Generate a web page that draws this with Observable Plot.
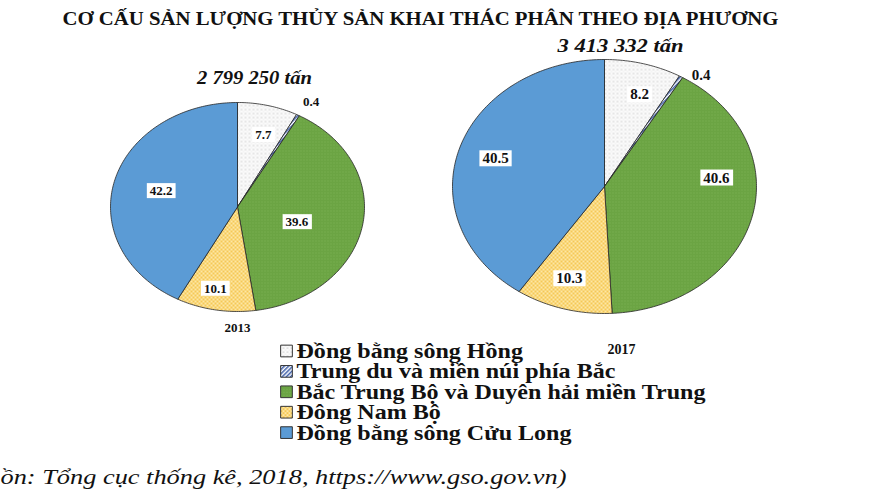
<!DOCTYPE html>
<html><head><meta charset="utf-8">
<script src="https://cdn.jsdelivr.net/npm/d3@7"></script>
<script src="https://cdn.jsdelivr.net/npm/@observablehq/plot@0.6"></script>
<style>
body{margin:0;background:#fff;overflow:hidden}
#chart svg text{font-family:"Liberation Serif","Times New Roman",serif !important}
</style>
</head><body><div id="chart"></div>
<script>
// ---- data ----
const title = "CƠ CẤU SẢN LƯỢNG THỦY SẢN KHAI THÁC PHÂN THEO ĐỊA PHƯƠNG";
const regions = [
  "Đồng bằng sông Hồng",
  "Trung du và miền núi phía Bắc",
  "Bắc Trung Bộ và Duyên hải miền Trung",
  "Đông Nam Bộ",
  "Đồng bằng sông Cửu Long"
];
const years = ["2013", "2017"];
const totals = ["2 799 250 tấn", "3 413 332 tấn"];
const share2013 = [7.7, 0.4, 39.6, 10.1, 42.2];
const share2017 = [8.2, 0.4, 40.6, 10.3, 40.5];
const source = "(Nguồn: Tổng cục thống kê, 2018, https://www.gso.gov.vn)";

// ---- layout / style ----
const W = 872, H = 491;
const serif = "Liberation Serif";
const fills = ["url(#pDots)", "url(#pHatch)", "url(#pGreen)", "url(#pCheck)", "#5b9bd5"];
const pies = [
  {values: share2013, year: years[0], total: totals[0], cx: 237, cy: 206.5, rx: 127, ry: 104.5,
   totalX: 254, totalY: 77, totalW: 115, yearX: 237, yearY: 327, yearSize: 13, labelSize: 13,
   labelR: [0.72, 1.16, 0.49, 0.8, 0.62], labelShift: [2.5, 1.6, 6.6, 2.7, 0.3]},
  {values: share2017, year: years[1], total: totals[1], cx: 604, cy: 186, rx: 152, ry: 127,
   totalX: 620, totalY: 45, totalW: 126, yearX: 621, yearY: 349, yearSize: 14, labelSize: 15,
   labelR: [0.76, 1.08, 0.74, 0.76, 0.75], labelShift: [2.9, 5.8, -19.4, 2, 0]}
];

// slice polygons computed from shares
const slicePts = [];
const labels = [];
pies.forEach((p, pi) => {
  let cum = 0;
  p.values.forEach((v, i) => {
    const a0 = cum / 100 * 2 * Math.PI, a1 = (cum + v) / 100 * 2 * Math.PI;
    const n = Math.max(2, Math.ceil(v * 3.6));
    slicePts.push({pie: pi, region: i, x: p.cx, y: p.cy});
    for (let k = 0; k <= n; k++) {
      const a = a0 + (a1 - a0) * k / n;
      slicePts.push({pie: pi, region: i, x: p.cx + p.rx * Math.sin(a), y: p.cy - p.ry * Math.cos(a)});
    }
    slicePts.push({pie: pi, region: i, x: p.cx, y: p.cy});
    const am = (a0 + a1) / 2 + p.labelShift[i] * Math.PI / 180;
    const r = p.labelR[i];
    labels.push({x: p.cx + r * p.rx * Math.sin(am), y: p.cy - r * p.ry * Math.cos(am),
                 text: v.toFixed(1), size: p.labelSize, boxed: r < 1});
    cum += v;
  });
});

const sliceMarks = [];
pies.forEach((p, pi) => regions.forEach((r, i) => {
  sliceMarks.push(Plot.line(slicePts.filter(d => d.pie === pi && d.region === i),
    {x: "x", y: "y", fill: fills[i], stroke: "#262626", strokeWidth: 0.8, curve: "linear"}));
}));

const legendY0 = 350.5, legendStep = 20.4, legendX = 286;
const legendData = regions.map((r, i) => ({name: r, i, y: legendY0 + i * legendStep}));
const tag = (s) => () => s;

const labelMarks = pies.map(p => [
  Plot.text(labels.filter(d => d.boxed && d.size === p.labelSize), {x: "x", y: "y", text: "text",
    fontSize: p.labelSize, fontWeight: "bold", fontFamily: serif, fill: "#111", ariaLabel: tag("slice-label")}),
  Plot.text(labels.filter(d => !d.boxed && d.size === p.labelSize), {x: "x", y: "y", text: "text",
    fontSize: p.labelSize, fontWeight: "bold", fontFamily: serif, fill: "#111"}),
  Plot.text([p], {x: "yearX", y: "yearY", text: "year", fontSize: p.yearSize, fontWeight: "bold",
    fontFamily: serif, fill: "#111"})
]).flat();

const plot = Plot.plot({
  width: W, height: H, margin: 0,
  x: {domain: [0, W], range: [0, W], axis: null},
  y: {domain: [0, H], range: [0, H], axis: null},
  style: {background: "#fff", overflow: "visible"},
  marks: [
    ...sliceMarks,
    ...labelMarks,
    Plot.text([title], {x: 420, y: 18, text: d => d, fontSize: 19, fontWeight: "bold", fontFamily: serif,
      fill: "#111", ariaLabel: tag("title")}),
    Plot.text(pies, {x: "totalX", y: "totalY", text: "total", fontSize: 19, fontWeight: "bold", fontStyle: "italic",
      fontFamily: serif, fill: "#111", ariaLabel: tag("total")}),
    Plot.dot(legendData, {x: legendX, y: "y", symbol: "square", r: 6.6, fill: (d) => fills[d.i],
      stroke: "#333", strokeWidth: 1}),
    Plot.text(legendData, {x: legendX + 10, y: "y", text: "name", textAnchor: "start", fontSize: 22,
      fontWeight: "bold", fontFamily: serif, fill: "#111", ariaLabel: tag("legend")}),
    Plot.text([source], {x: 0, y: 477, text: d => d, textAnchor: "start", fontSize: 21, fontStyle: "italic",
      fontFamily: serif, fill: "#111", ariaLabel: tag("source")})
  ]
});

// pattern definitions for textured slices
const defs = document.createElementNS("http://www.w3.org/2000/svg", "defs");
defs.innerHTML = `
  <pattern id="pDots" width="4" height="4" patternUnits="userSpaceOnUse">
    <rect width="4" height="4" fill="#fbfbfb"/><circle cx="1" cy="1" r="0.55" fill="#9a9a9a"/>
    <circle cx="3" cy="3" r="0.45" fill="#c4c4c4"/></pattern>
  <pattern id="pHatch" width="3" height="3" patternUnits="userSpaceOnUse" patternTransform="rotate(45)">
    <rect width="3" height="3" fill="#ffffff"/><rect width="1.5" height="3" fill="#3d5ea8"/></pattern>
  <pattern id="pGreen" width="3" height="3" patternUnits="userSpaceOnUse">
    <rect width="3" height="3" fill="#6ba443"/><rect width="1" height="1" fill="#7db257"/></pattern>
  <pattern id="pCheck" width="4" height="4" patternUnits="userSpaceOnUse">
    <rect width="4" height="4" fill="#fde7a6"/><rect width="2" height="2" fill="#f5c856"/>
    <rect x="2" y="2" width="2" height="2" fill="#f5c856"/></pattern>`;
plot.insertBefore(defs, plot.firstChild);
document.getElementById("chart").appendChild(plot);

const fitWidth = (t, w) => { t.setAttribute("textLength", w); t.setAttribute("lengthAdjust", "spacingAndGlyphs"); };
// title and totals stretched to the reference's widths
plot.querySelectorAll('text[aria-label="title"]').forEach(t => fitWidth(t, 716));
plot.querySelectorAll('text[aria-label="total"]').forEach((t, i) => fitWidth(t, pies[i].totalW));
// legend: longest entry spans 409px
const legTexts = [...plot.querySelectorAll('text[aria-label="legend"]')];
if (legTexts.length) {
  const k = 409 / d3.max(legTexts, t => t.getComputedTextLength());
  legTexts.forEach(t => fitWidth(t, t.getComputedTextLength() * k));
}
// source: text is cropped on the left, visible part ends at x≈564
plot.querySelectorAll('text[aria-label="source"]').forEach(t => {
  const L = t.getComputedTextLength(), l = t.getSubStringLength(0, 4);
  const s = 566 / (L - l);
  fitWidth(t, L * s);
  const tr = t.getAttribute("transform") || "";
  t.setAttribute("transform", tr + ` translate(${566 - L * s},0)`);
});
// white boxes behind slice value labels
plot.querySelectorAll('text[aria-label="slice-label"]').forEach(t => {
  const b = t.getBBox();
  const rect = document.createElementNS("http://www.w3.org/2000/svg", "rect");
  rect.setAttribute("x", b.x - 3); rect.setAttribute("y", b.y);
  rect.setAttribute("width", b.width + 6); rect.setAttribute("height", b.height);
  rect.setAttribute("fill", "#fff");
  if (t.getAttribute("transform")) rect.setAttribute("transform", t.getAttribute("transform"));
  t.parentNode.insertBefore(rect, t);
});
</script>
</body></html>
